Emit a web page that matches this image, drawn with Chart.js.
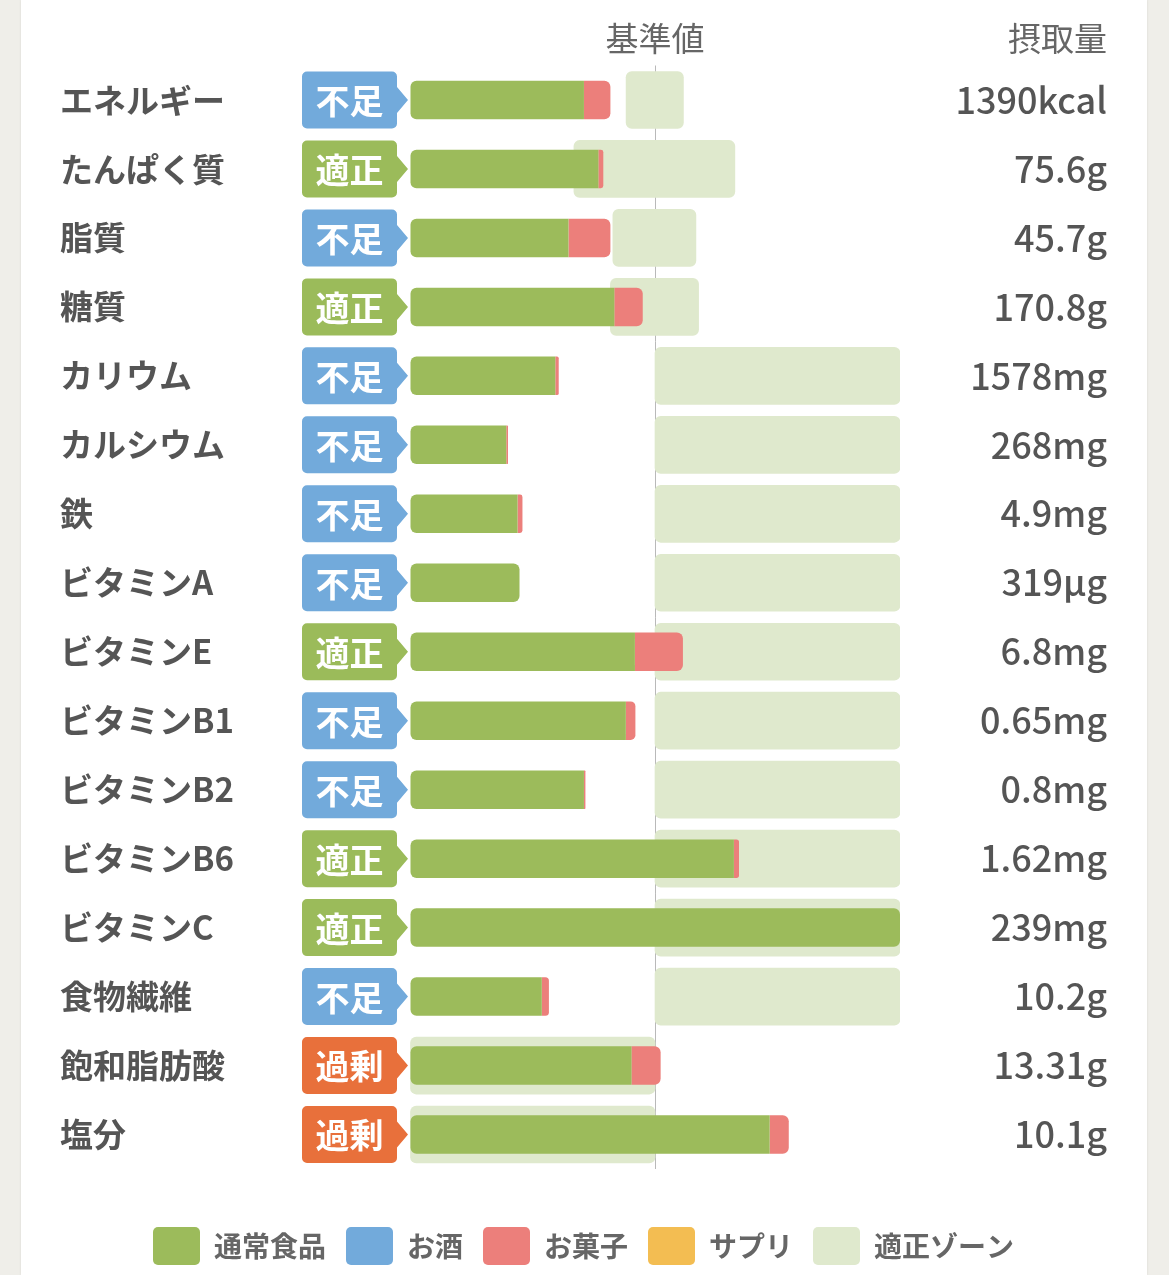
<!DOCTYPE html>
<html lang="ja">
<head>
<meta charset="utf-8">
<script src="https://cdn.jsdelivr.net/npm/chart.js@4.4.1/dist/chart.umd.min.js"></script>
<style>
  html, body { margin: 0; padding: 0; background: #efeee9; overflow: hidden; }
  .card { position: absolute; left: 21px; top: 0; width: 1126px; height: 1275px; background: #fff; box-shadow: 0 0 2px #d6d6d0; }
  #c { position: absolute; left: 0; top: 0; }
</style>
</head>
<body>
<div class="card"></div>
<canvas id="c" width="1169" height="1275"></canvas>
<script>
const FONT = '"Noto Sans CJK JP", "Noto Sans", sans-serif';

const nutrients = ['エネルギー', 'たんぱく質', '脂質', '糖質', 'カリウム', 'カルシウム', '鉄', 'ビタミンA',
  'ビタミンE', 'ビタミンB1', 'ビタミンB2', 'ビタミンB6', 'ビタミンC', '食物繊維', '飽和脂肪酸', '塩分'];
const intakeLabels = ['1390kcal', '75.6g', '45.7g', '170.8g', '1578mg', '268mg', '4.9mg', '319μg',
  '6.8mg', '0.65mg', '0.8mg', '1.62mg', '239mg', '10.2g', '13.31g', '10.1g'];
const status = ['不足', '適正', '不足', '適正', '不足', '不足', '不足', '不足',
  '適正', '不足', '不足', '適正', '適正', '不足', '過剰', '過剰'];

// 基準値に対する割合 (%)
const regularFood = [71.0, 76.9, 64.7, 83.4, 59.3, 39.3, 43.9, 44.7, 91.8, 88.1, 71.0, 132.2, 200, 53.8, 90.4, 146.8];
const alcohol     = [0, 0, 0, 0, 0, 0, 0, 0, 0, 0, 0, 0, 0, 0, 0, 0];
const sweets      = [10.8, 2.0, 17.1, 11.6, 1.4, 0.7, 2.0, 0, 19.6, 3.9, 0.6, 2.1, 0, 2.9, 11.9, 7.8];
const supplements = [0, 0, 0, 0, 0, 0, 0, 0, 0, 0, 0, 0, 0, 0, 0, 0];
const zoneMin = [88.2, 66.9, 82.8, 81.8, 100, 100, 100, 100, 100, 100, 100, 100, 100, 100, 0, 0];
const zoneMax = [111.6, 132.6, 116.7, 117.8, 200, 200, 200, 200, 200, 200, 200, 200, 200, 200, 100, 100];

const statusColors = { '不足': '#72aadb', '適正': '#9bbb5a', '過剰': '#e8703b' };
const R = 6;
const BAR = 38.5, ZONE = 57;

const headerAndBadges = {
    id: 'headerAndBadges',
    afterDraw(chart) {
        const { ctx, chartArea, scales } = chart;
        ctx.save();
        // 見出し
        ctx.font = '400 33px ' + FONT;
        ctx.fillStyle = '#666';
        ctx.textBaseline = 'middle';
        ctx.textAlign = 'center';
        ctx.fillText('基準値', scales.x.getPixelForValue(100), 38);
        ctx.textAlign = 'right';
        ctx.fillText('摂取量', scales.y2.right, 38);

        // 判定バッジ
        const x0 = chartArea.left - 108, x1 = chartArea.left - 13;
        const h = ZONE, r = 5;
        status.forEach((s, i) => {
            const cy = scales.y.getPixelForValue(i);
            const top = cy - h / 2, bot = cy + h / 2;
            ctx.beginPath();
            ctx.moveTo(x0 + r, top);
            ctx.lineTo(x1 - r, top);
            ctx.arcTo(x1, top, x1, top + r, r);
            ctx.lineTo(x1, cy - 13);
            ctx.lineTo(x1 + 11, cy);
            ctx.lineTo(x1, cy + 13);
            ctx.lineTo(x1, bot - r);
            ctx.arcTo(x1, bot, x1 - r, bot, r);
            ctx.lineTo(x0 + r, bot);
            ctx.arcTo(x0, bot, x0, bot - r, r);
            ctx.lineTo(x0, top + r);
            ctx.arcTo(x0, top, x0 + r, top, r);
            ctx.closePath();
            ctx.fillStyle = statusColors[s];
            ctx.fill();
            ctx.fillStyle = '#fff';
            ctx.font = '700 34px ' + FONT;
            ctx.textAlign = 'center';
            ctx.fillText(s, (x0 + x1) / 2, cy + 1);
        });
        ctx.restore();
    }
};

const ctx = document.getElementById('c').getContext('2d');

new Chart(ctx, {
    type: 'bar',
    data: {
        labels: nutrients,
        datasets: [
            {
                label: '通常食品', data: regularFood, backgroundColor: '#9cbb5b',
                stack: 'intake', grouped: false, barThickness: BAR, order: 0, borderSkipped: false, inflateAmount: 0,
                borderRadius: c => {
                    const end = sweets[c.dataIndex] ? 0 : R;
                    return { topLeft: R, bottomLeft: R, topRight: end, bottomRight: end };
                }
            },
            {
                label: 'お酒', data: alcohol, backgroundColor: '#72aadb',
                stack: 'intake', grouped: false, barThickness: BAR, order: 0, borderSkipped: false, inflateAmount: 0
            },
            {
                label: 'お菓子', data: sweets, backgroundColor: '#ec7f7b',
                stack: 'intake', grouped: false, barThickness: BAR, order: 0, borderSkipped: false, inflateAmount: 0,
                borderRadius: { topLeft: 0, bottomLeft: 0, topRight: R, bottomRight: R }
            },
            {
                label: 'サプリ', data: supplements, backgroundColor: '#f3bd52',
                stack: 'intake', grouped: false, barThickness: BAR, order: 0, borderSkipped: false, inflateAmount: 0
            },
            {
                label: '適正ゾーン', data: zoneMin.map((lo, i) => [lo, zoneMax[i]]), backgroundColor: '#dfe9cd',
                stack: 'zone', grouped: false, barThickness: ZONE, order: 1, borderSkipped: false,
                borderRadius: R
            }
        ]
    },
    options: {
        indexAxis: 'y',
        responsive: false,
        animation: false,
        layout: { padding: { left: 60, right: 62, top: 65.5, bottom: 0 } },
        scales: {
            x: {
                stacked: true, min: 0, max: 200, z: 1,
                ticks: { display: false, stepSize: 100 },
                border: { display: false },
                grid: {
                    drawTicks: false, lineWidth: 1,
                    color: c => (c.tick && c.tick.value === 100) ? '#b9b9b9' : 'rgba(0,0,0,0)'
                },
                afterFit(s) { s.height = 38; }
            },
            y: {
                position: 'left',
                grid: { display: false }, border: { display: false },
                ticks: { crossAlign: 'far', color: '#555', padding: 0, font: { family: FONT, size: 33, weight: 'bold' } },
                afterFit(s) { s.width = 350; }
            },
            y2: {
                type: 'category', labels: intakeLabels, position: 'right', offset: true,
                grid: { display: false }, border: { display: false },
                ticks: { crossAlign: 'far', color: '#555', padding: 0, font: { family: FONT, size: 36, weight: '500' } },
                afterFit(s) { s.width = 207; }
            }
        },
        plugins: {
            tooltip: { enabled: false },
            legend: {
                position: 'bottom',
                labels: {
                    boxWidth: 47, boxHeight: 38, useBorderRadius: true, borderRadius: 5,
                    padding: 20, color: '#666', font: { family: FONT, size: 28, weight: 'bold' }
                }
            }
        }
    },
    plugins: [headerAndBadges]
});
</script>
</body>
</html>
